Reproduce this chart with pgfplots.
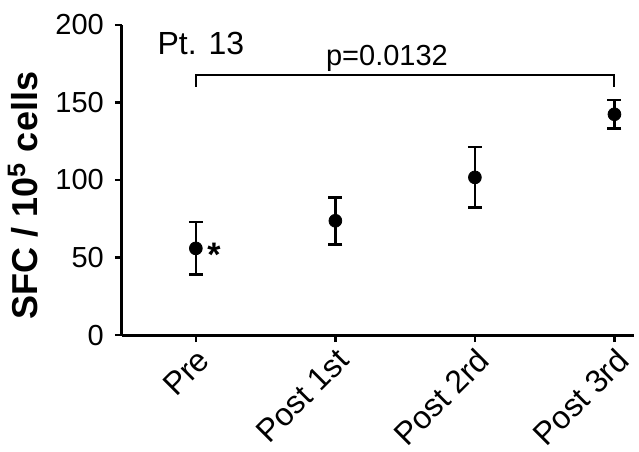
\documentclass[border=0pt]{standalone}
\usepackage{fontspec}
\setmainfont{Liberation Sans}
\usepackage{pgfplots}
\pgfplotsset{compat=1.18}

\begin{document}
\begin{tikzpicture}
\begin{axis}[
  scale only axis, width=256pt, height=155pt,
  xmin=-0.53, xmax=3.14, ymin=0, ymax=200,
  axis x line*=bottom, axis y line*=left,
  axis line style={line width=1.5pt},
  every tick/.style={black, line width=1.2pt},
  tick align=outside, major tick length=3.5pt,
  xtick={0,1,2,3},
  xticklabels={Pre,Post 1st,Post 2rd,Post 3rd},
  ytick={0,50,100,150,200},
  /pgf/number format/assume math mode=true,
  yticklabel style={font=\fontsize{14.5}{16}\selectfont, xshift=-2pt},
  xticklabel style={font=\fontsize{16}{18}\selectfont, rotate=45, anchor=north east, inner sep=1.5pt},
  ylabel={\bfseries SFC / 10\textsuperscript{5} cells},
  ylabel style={font=\fontsize{18}{20}\selectfont, at={(rel axis cs:-0.193,0.45)}, anchor=center},
  clip=false]
\addplot[only marks, mark=*, mark size=3.2pt, black,
  error bars/.cd, y dir=both, y explicit,
  error mark options={rotate=90, mark size=3.5pt, line width=1.3pt},
  error bar style={line width=1.3pt}]
  coordinates {
  (0,55.9) +- (0,17)
  (1,73.7) +- (0,15.2)
  (2,101.7) +- (0,19.5)
  (3,142.4) +- (0,9.2)
  };
\draw[line width=1pt] (axis cs:0,160) -- (axis cs:0,168) -- (axis cs:3,168) -- (axis cs:3,160);
\node[font=\fontsize{14.5}{16}\selectfont, anchor=south, inner sep=1pt] at (axis cs:1.37,168.5) {p=0.0132};
\node[font=\fontsize{16}{18}\selectfont, anchor=west, inner sep=0pt] at (rel axis cs:0.069,0.94) {Pt. 13};
\node[font=\fontsize{17}{18}\selectfont\bfseries] at (axis cs:0.13,52) {*};
\path (rel axis cs:-0.238,-0.3645) rectangle (rel axis cs:1.0098,1.0806);
\end{axis}
\end{tikzpicture}
\end{document}
